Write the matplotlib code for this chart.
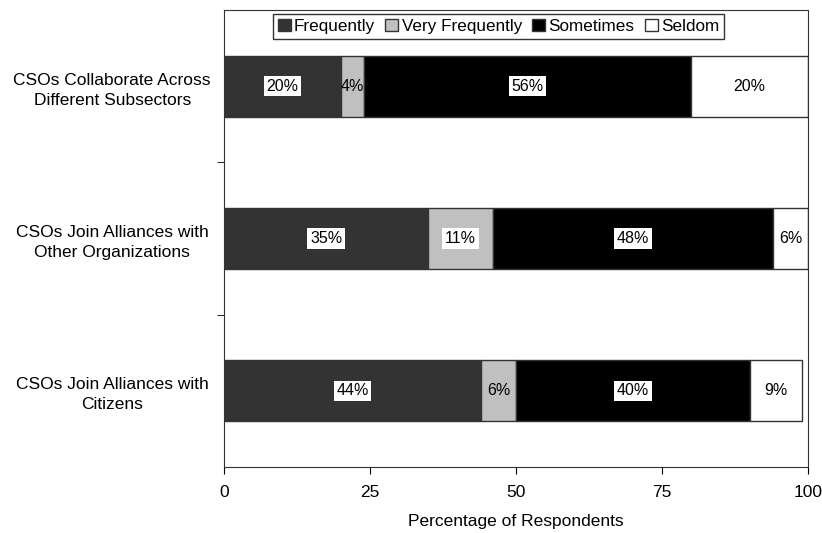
import matplotlib.pyplot as plt
import numpy as np

plt.rcParams['font.family'] = ['Liberation Sans', 'DejaVu Sans']

categories = ["CSOs Collaborate Across\nDifferent Subsectors",
              "CSOs Join Alliances with\nOther Organizations",
              "CSOs Join Alliances with\nCitizens"]
series = ["Frequently", "Very Frequently", "Sometimes", "Seldom"]
frequently = [20, 35, 44]
very_frequently = [4, 11, 6]
sometimes = [56, 48, 40]
seldom = [20, 6, 9]
colors = ['#333333', '#c0c0c0', '#000000', '#ffffff']

values = [frequently, very_frequently, sometimes, seldom]

fig = plt.figure(figsize=(8.22, 5.33), dpi=100)
ax = fig.add_axes([0.2725, 0.124, 0.983 - 0.2725, 0.981 - 0.124])

y = np.arange(len(categories))
left = np.zeros(len(categories))
for name, vals, col in zip(series, values, colors):
    ax.barh(y, vals, 0.4, left=left, color=col, edgecolor='#333333',
            linewidth=1, label=name)
    for yi, l, v in zip(y, left, vals):
        box = None
        if not (name == "Very Frequently" and v < 10):
            box = dict(facecolor='white', edgecolor='none', pad=2)
        ax.text(l + v / 2, yi, f"{v}%", ha='center', va='center',
                fontsize=11.5, bbox=box)
    left = left + np.array(vals)

ax.set_xlim(0, 100)
ax.set_ylim(2.5, -0.5)
ax.set_xticks([0, 25, 50, 75, 100])
ax.set_yticks(y)
ax.set_yticklabels(categories, fontsize=12.5, ha='center', linespacing=1.4)
ax.tick_params(axis='y', which='major', length=0, pad=80.5)
ax.set_yticks([0.5, 1.5], minor=True)
ax.tick_params(axis='y', which='minor', length=5, direction='out')
ax.tick_params(axis='x', length=5, direction='out', labelsize=12.5, pad=8)
ax.set_xlabel("Percentage of Respondents", fontsize=12.5, labelpad=10)

for s in ax.spines.values():
    s.set_color('#333333')

leg = ax.legend(loc='upper center', bbox_to_anchor=(0.47, 1.0), ncol=4,
                fontsize=12.3, frameon=True, fancybox=False, edgecolor='black',
                handlelength=0.75, handleheight=0.75, handletextpad=0.2,
                columnspacing=0.6, borderpad=0.3, borderaxespad=0.2)
leg.get_frame().set_linewidth(1)

plt.savefig("out.png", dpi=100)
